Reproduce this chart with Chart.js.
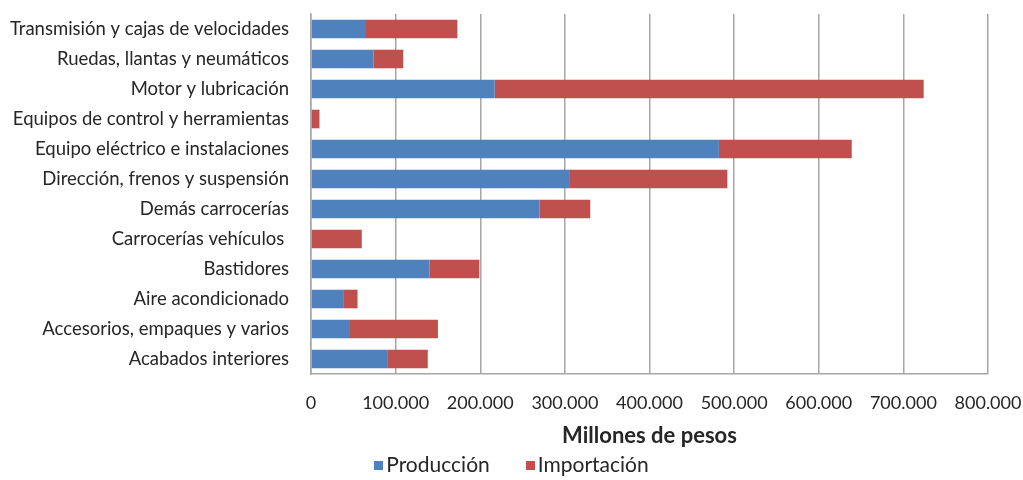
<!DOCTYPE html>
<html lang="es">
<head>
<meta charset="utf-8">
<title>Producción e importación de autopartes</title>
<script src="https://cdn.jsdelivr.net/npm/chart.js@4.4.1/dist/chart.umd.min.js"></script>
<style>
  body { margin: 0; background: #fff; }
  .contenedor { position: relative; width: 1023px; height: 480px; }
  canvas { display: block; }
  #leyenda {
    position: absolute; left: 0; right: 0; top: 451px;
    display: flex; justify-content: center; gap: 36px;
    font-family: 'Lato', sans-serif; font-size: 21px; color: #262626;
    line-height: 26px;
  }
  #leyenda .item { display: flex; align-items: center; }
  #leyenda .caja { width: 9px; height: 9px; margin-right: 3px; margin-top: 2px; }
</style>
</head>
<body>
<div class="contenedor">
  <canvas id="myChart" width="1023" height="480"></canvas>
  <div id="leyenda"></div>
</div>
<script>
// Segmentos de autopartes, de arriba hacia abajo
const categorias = [
  'Transmisión y cajas de velocidades',
  'Ruedas, llantas y neumáticos',
  'Motor y lubricación',
  'Equipos de control y herramientas',
  'Equipo eléctrico e instalaciones',
  'Dirección, frenos y suspensión',
  'Demás carrocerías',
  'Carrocerías vehículos ',
  'Bastidores',
  'Aire acondicionado',
  'Accesorios, empaques y varios',
  'Acabados interiores'
];

// Millones de pesos
const produccion  = [65000, 74000, 217000, 0, 482000, 305000, 270000, 0, 140000, 38000, 45000, 90000];
const importacion = [108000, 35000, 507000, 10000, 157000, 187000, 60000, 60000, 59000, 17000, 105000, 48000];

const ticksX = [0, 100000, 200000, 300000, 400000, 500000, 600000, 700000, 800000];

const colorTexto = '#262626';
const colorGrilla = '#a6a6a6';

// 100000 -> "100.000"
function formatoMiles(valor) {
  return valor.toString().replace(/\B(?=(\d{3})+(?!\d))/g, '.');
}

// Leyenda en HTML para poder separar los elementos a gusto
function renderLeyenda(chart) {
  const contenedor = document.getElementById('leyenda');
  chart.data.datasets.forEach(ds => {
    const item = document.createElement('div');
    item.className = 'item';
    const caja = document.createElement('span');
    caja.className = 'caja';
    caja.style.background = ds.backgroundColor;
    const texto = document.createElement('span');
    texto.textContent = ds.label;
    item.appendChild(caja);
    item.appendChild(texto);
    contenedor.appendChild(item);
  });
}

function renderChart() {
  const ctx = document.getElementById('myChart').getContext('2d');
  const chart = new Chart(ctx, {
    type: 'bar',
    data: {
      labels: categorias,
      datasets: [{
        label: 'Producción',
        data: produccion,
        backgroundColor: '#4f81bd',
        barPercentage: 0.62,
        categoryPercentage: 1
      }, {
        label: 'Importación',
        data: importacion,
        backgroundColor: '#c0504d',
        barPercentage: 0.62,
        categoryPercentage: 1
      }]
    },
    options: {
      indexAxis: 'y',
      responsive: false,
      animation: false,
      layout: {
        padding: { top: 14, right: 6, bottom: 31, left: 0 }
      },
      scales: {
        x: {
          stacked: true,
          min: 0,
          max: 800000,
          afterBuildTicks: scale => {
            scale.ticks = ticksX.map(v => ({ value: v }));
          },
          afterFit: scale => {
            scale.height = 75;
            scale.paddingLeft = 0;
            scale.paddingRight = 35;
          },
          grid: {
            color: colorGrilla,
            lineWidth: 1.5,
            drawTicks: false
          },
          border: { color: colorGrilla, width: 1.5 },
          ticks: {
            padding: 18,
            color: colorTexto,
            font: { family: 'Lato', size: 18 },
            maxRotation: 0,
            callback: value => formatoMiles(value)
          },
          title: {
            display: true,
            text: 'Millones de pesos',
            color: colorTexto,
            font: { family: 'Lato', size: 22, weight: 'bold' },
            padding: { top: 9, bottom: 0 }
          }
        },
        y: {
          stacked: true,
          grid: { display: false, drawTicks: false },
          border: { color: colorGrilla, width: 1.5 },
          afterFit: scale => {
            scale.width = 311;
            scale.paddingTop = 0;
            scale.paddingBottom = 0;
          },
          ticks: {
            padding: 22,
            color: colorTexto,
            font: { family: 'Lato', size: 18.5 }
          }
        }
      },
      plugins: {
        tooltip: { enabled: false },
        legend: { display: false }
      }
    }
  });
  renderLeyenda(chart);
  return chart;
}

renderChart();
</script>
</body>
</html>
